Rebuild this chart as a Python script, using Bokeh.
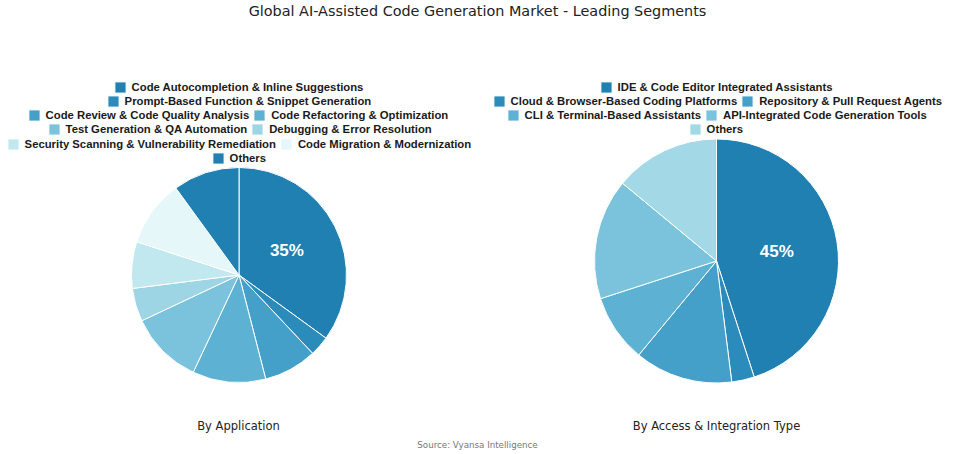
import math

from bokeh.core.properties import value
from bokeh.embed import file_html
from bokeh.models import ColumnDataSource, Label, Legend, LegendItem, Range1d
from bokeh.plotting import figure
from bokeh.resources import INLINE

# ---- data -------------------------------------------------------------
app_labels = [
    "Code Autocompletion & Inline Suggestions",
    "Prompt-Based Function & Snippet Generation",
    "Code Review & Code Quality Analysis",
    "Code Refactoring & Optimization",
    "Test Generation & QA Automation",
    "Debugging & Error Resolution",
    "Security Scanning & Vulnerability Remediation",
    "Code Migration & Modernization",
    "Others",
]
app_shares = [35, 3, 8, 11, 11, 5, 7, 10, 10]
app_colors = ["#1f80b1", "#2b8cbb", "#44a0c8", "#5db1d2", "#7bc3dc",
              "#9ed5e4", "#c2e8ef", "#e6f7fa", "#1f80b1"]

access_labels = [
    "IDE & Code Editor Integrated Assistants",
    "Cloud & Browser-Based Coding Platforms",
    "Repository & Pull Request Agents",
    "CLI & Terminal-Based Assistants",
    "API-Integrated Code Generation Tools",
    "Others",
]
access_shares = [45, 3, 13, 9, 16, 14]
access_colors = ["#1f80b1", "#2b8cbb", "#44a0c8", "#5db1d2", "#7bc3dc", "#a3d8e6"]

W, H = 955, 454

p = figure(width=W, height=H, output_backend="svg", toolbar_location=None,
           x_range=Range1d(0, W), y_range=Range1d(0, H),
           x_axis_type=None, y_axis_type=None, min_border=0)
p.outline_line_color = None
p.grid.visible = False
p.background_fill_color = "white"
p.border_fill_color = "white"


def pie(labels, shares, colors, cx, cy, r):
    total = float(sum(shares))
    starts, ends, acc = [], [], 0.0
    for s in shares:
        starts.append(math.pi / 2 - 2 * math.pi * acc / total)
        acc += s
        ends.append(math.pi / 2 - 2 * math.pi * acc / total)
    src = ColumnDataSource(dict(label=labels, share=shares, color=colors,
                                start=starts, end=ends))
    rend = p.wedge(x=cx, y=cy, radius=r, start_angle="start", end_angle="end",
                   direction="clock", fill_color="color", line_color="white",
                   line_width=1, source=src)
    # percentage label on the largest slice
    i = max(range(len(shares)), key=lambda k: shares[k])
    mid = (starts[i] + ends[i]) / 2
    lab = ColumnDataSource(dict(x=[cx + 0.5 * r * math.cos(mid)],
                                y=[cy + 0.5 * r * math.sin(mid)],
                                t=["%d%%" % shares[i]]))
    p.text(x="x", y="y", text="t", source=lab, text_color="white",
           text_font=value("Liberation Sans"), text_font_style="bold",
           text_font_size="17px", text_align="center", text_baseline="middle")
    return rend


left = pie(app_labels, app_shares, app_colors, 238.5, H - 274.5, 107.5)
right = pie(access_labels, access_shares, access_colors, 716, H - 260.5, 122)


def legend_row(rend, idxs, labels, x, y_center):
    # the area swatch is inset by 10% of the glyph box, so a 14px box
    # gives an ~11px square
    items = [LegendItem(label=labels[i], renderers=[rend], index=i) for i in idxs]
    lg = Legend(items=items, orientation="horizontal",
                location=(x - 1.4, H - y_center - 7),
                glyph_width=14, glyph_height=14, label_height=14,
                label_standoff=5, spacing=3, padding=0, margin=0,
                border_line_color=None, background_fill_alpha=0,
                label_text_font="Liberation Sans", label_text_font_style="bold",
                label_text_font_size="11.3px", label_text_color="#1a1a1a",
                label_text_baseline="middle")
    p.add_layout(lg)


for idxs, x, yc in [([0], 114, 86.7), ([1], 107, 100.7), ([2, 3], 28, 115),
                    ([4, 5], 48, 129.3), ([6, 7], 7, 144), ([8], 212, 158.3)]:
    legend_row(left, idxs, app_labels, x, yc)

for idxs, x, yc in [([0], 600, 86.7), ([1, 2], 493, 100.7), ([3, 4], 507, 115),
                    ([5], 689, 129.3)]:
    legend_row(right, idxs, access_labels, x, yc)


def label(text, x, y, size, color):
    p.add_layout(Label(x=x, y=H - y, text=text, text_align="center",
                       text_baseline="middle", text_font="DejaVu Sans",
                       text_font_size=size, text_color=color))


label("Global AI-Assisted Code Generation Market - Leading Segments",
      477, 10, "14.4px", "#222222")
label("By Application", 238, 425, "11.5px", "#222222")
label("By Access & Integration Type", 716, 425, "11.5px", "#222222")
label("Source: Vyansa Intelligence", 477, 444.5, "8.7px", "#777777")

open("out.html", "w").write(file_html(p, INLINE))
